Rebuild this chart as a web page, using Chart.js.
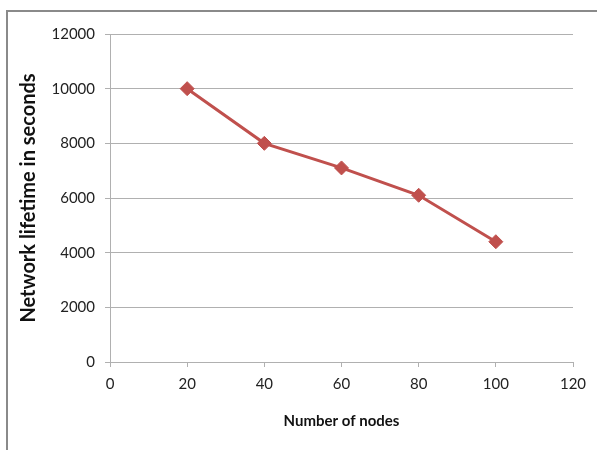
<!DOCTYPE html>
<html>
<head>
<meta charset="utf-8">
<script src="https://cdn.jsdelivr.net/npm/chart.js@4.4.0/dist/chart.umd.min.js"></script>
<style>
  html, body { margin: 0; padding: 0; background: #fff; }
</style>
</head>
<body>
<canvas id="chart" width="597" height="450"></canvas>
<script>
const nodes = [20, 40, 60, 80, 100];
const lifetime = [10000, 8000, 7100, 6100, 4400];
const xTicks = [0, 20, 40, 60, 80, 100, 120];
const yTicks = [0, 2000, 4000, 6000, 8000, 10000, 12000];

// outer chart frame (top and left edges are visible in the picture)
const frame = {
  id: 'frame',
  beforeDraw(chart) {
    const ctx = chart.ctx;
    ctx.save();
    ctx.strokeStyle = '#8a8a8a';
    ctx.lineWidth = 2;
    ctx.beginPath();
    ctx.moveTo(7, 450);
    ctx.lineTo(7, 11);
    ctx.lineTo(597, 11);
    ctx.stroke();
    ctx.restore();
  }
};

const tickFont = { family: 'Lato, "Liberation Sans", sans-serif', size: 15 };
const titleFont = { family: 'Lato, "Liberation Sans", sans-serif', weight: 'bold' };

new Chart(document.getElementById('chart'), {
  type: 'line',
  data: {
    datasets: [{
      label: 'Network lifetime',
      data: nodes.map((n, i) => ({ x: n, y: lifetime[i] })),
      borderColor: '#C0504D',
      backgroundColor: '#C0504D',
      borderWidth: 3,
      pointStyle: 'rectRot',
      pointRadius: 7,
      pointBorderWidth: 1,
      tension: 0
    }]
  },
  options: {
    responsive: false,
    animation: false,
    layout: { padding: { top: 34, right: 24, left: 0, bottom: 0 } },
    plugins: {
      legend: { display: false },
      tooltip: { enabled: false }
    },
    scales: {
      x: {
        type: 'linear',
        min: 0,
        max: 120,
        afterBuildTicks: s => { s.ticks = xTicks.map(v => ({ value: v })); },
        afterFit: s => { s.height = 88; },
        grid: { drawOnChartArea: false, drawTicks: true, tickLength: 5, color: '#b0b0b0' },
        border: { display: true, color: '#b0b0b0' },
        ticks: { font: tickFont, color: '#222', padding: 8, maxRotation: 0, callback: v => String(v) },
        title: {
          display: true,
          text: 'Number of nodes',
          font: { ...titleFont, size: 15 },
          color: '#111',
          padding: { top: 0, bottom: 20 }
        }
      },
      y: {
        min: 0,
        max: 12000,
        afterBuildTicks: s => { s.ticks = yTicks.map(v => ({ value: v })); },
        afterFit: s => { s.width = 110; },
        grid: { color: '#b0b0b0', tickLength: 5 },
        border: { display: true, color: '#b0b0b0' },
        ticks: { font: tickFont, color: '#222', padding: 10, callback: v => String(v) },
        title: {
          display: true,
          text: 'Network lifetime in seconds',
          font: { ...titleFont, size: 20 },
          color: '#111',
          padding: { top: 17, bottom: 0 }
        }
      }
    }
  },
  plugins: [frame]
});
</script>
</body>
</html>
